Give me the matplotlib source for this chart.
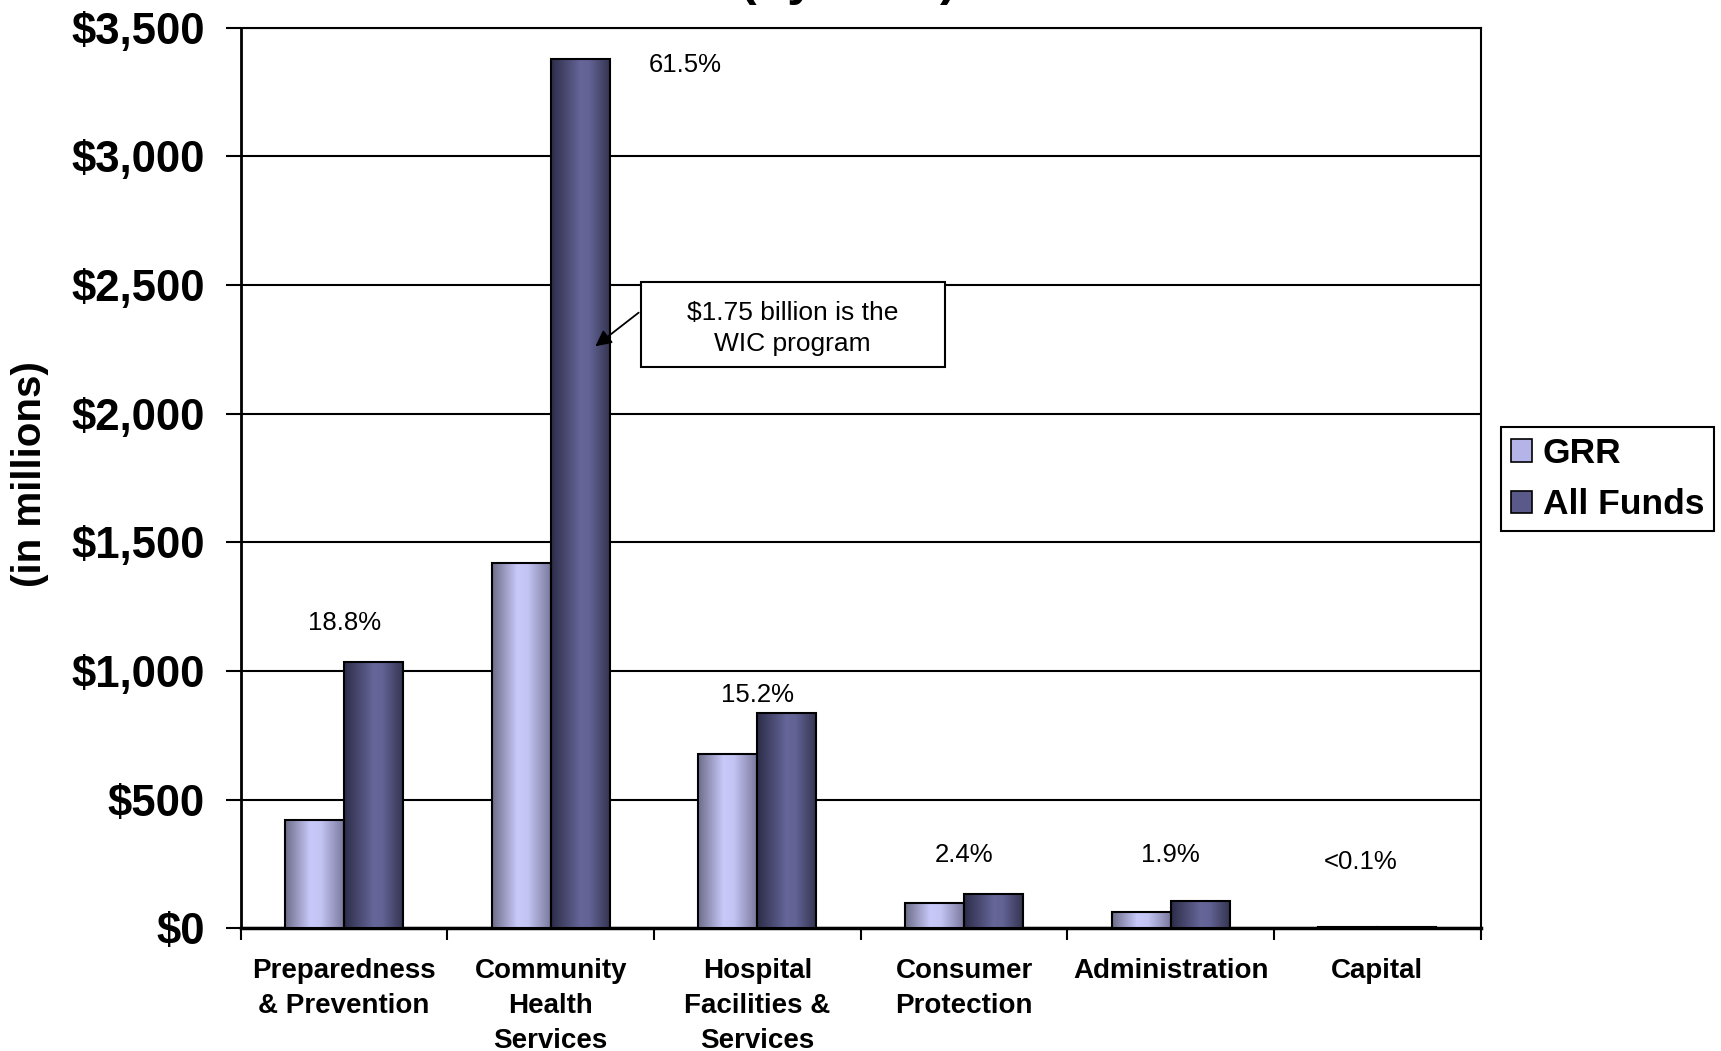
import matplotlib.pyplot as plt
import numpy as np
from matplotlib.colors import LinearSegmentedColormap
from matplotlib.patches import Patch, Rectangle

plt.rcParams['font.family'] = ['Liberation Sans', 'DejaVu Sans']

# расходы по целям, млн $
categories = ["Preparedness\n& Prevention", "Community\nHealth\nServices",
              "Hospital\nFacilities &\nServices", "Consumer\nProtection",
              "Administration", "Capital"]
grr = [420, 1420, 678, 100, 63, 4]
all_funds = [1034, 3378, 836, 132, 105, 5]
shares = ["18.8%", "61.5%", "15.2%", "2.4%", "1.9%", "<0.1%"]
y_ticks = [0, 500, 1000, 1500, 2000, 2500, 3000, 3500]

# где стоят подписи долей
share_pos = [(0, 1188), (1.65, 3356), (2, 908), (3, 285), (4, 285), (4.92, 259)]

# градиенты для столбцов
cmap_grr = LinearSegmentedColormap.from_list(
    "grr", [(0, "#6c6c88"), (0.42, "#c8c8fa"), (0.6, "#c4c4f4"), (1, "#76769a")])
cmap_all = LinearSegmentedColormap.from_list(
    "all", [(0, "#2c2c48"), (0.5, "#66669a"), (0.65, "#626294"), (1, "#32324e")])

fig = plt.figure(figsize=(17.21, 10.51), dpi=100)
ax = fig.add_axes([0.1399, 0.1166, 0.7205, 0.8572])

x = np.arange(len(categories))
w = 1 / 3.5
bars1 = ax.bar(x - w / 2, grr, w, facecolor='none', edgecolor='black', linewidth=1.5, zorder=4)
bars2 = ax.bar(x + w / 2, all_funds, w, facecolor='none', edgecolor='black', linewidth=1.5, zorder=4)

grad = np.linspace(0, 1, 256)[None, :]
for bars, cmap in [(bars1, cmap_grr), (bars2, cmap_all)]:
    for b in bars:
        x0, y0 = b.get_x(), b.get_y()
        im = ax.imshow(grad, cmap=cmap, aspect='auto', zorder=3.5,
                       extent=(x0, x0 + b.get_width(), y0, y0 + b.get_height()))
        im.set_clip_path(b)

ax.set_xlim(-0.5, 5.5)
ax.set_ylim(0, 3500)

# сетка и оси
ax.yaxis.grid(True, color='black', linewidth=1.5)
ax.set_axisbelow(True)
ax.spines['left'].set_linewidth(2)
ax.spines['bottom'].set_linewidth(2.5)
ax.spines['right'].set_linewidth(1.5)
ax.spines['top'].set_linewidth(1.5)

ax.set_yticks(y_ticks)
ax.set_yticklabels([f"${v:,}" for v in y_ticks], fontsize=31.5, fontweight='bold')
ax.tick_params(axis='y', length=10.8, width=1.5, pad=15)

ax.set_xticks(x)
ax.set_xticklabels(categories, fontsize=20, fontweight='bold', linespacing=1.45)
ax.tick_params(axis='x', which='major', length=0, pad=21)
ax.set_xticks(np.arange(-0.5, 6, 1), minor=True)
ax.tick_params(axis='x', which='minor', length=8.6, width=1.5, direction='out')

# доли от общей суммы
for s, (sx, sy) in zip(shares, share_pos):
    ax.text(sx, sy, s, ha='center', va='center', fontsize=18.5, zorder=5)

# выноска про WIC
ax.add_patch(Rectangle((1.436, 2182), 2.907 - 1.436, 2510 - 2182,
                       facecolor='white', edgecolor='black', linewidth=1.5, zorder=5))
ax.text(2.17, 2330, "$1.75 billion is the\nWIC program", ha='center', va='center',
        fontsize=19, linespacing=1.35, zorder=6)
ax.annotate("", xy=(1.205, 2255), xytext=(1.436, 2399),
            arrowprops=dict(arrowstyle='-|>', color='black', lw=1.3, mutation_scale=24),
            zorder=6)

# подпись оси Y
fig.text(0.0172, 0.549, "(in millions)", rotation=90, ha='center', va='center',
         fontsize=29, fontweight='bold')

# заголовок, уходит за верхний край
fig.text(0.4927, 1 + 5 / 1051, "(by Goal)", ha='center', va='baseline',
         fontsize=36, fontweight='bold')

handles = [Patch(facecolor="#b4b4e8", edgecolor='black', linewidth=1.2),
           Patch(facecolor="#5a5a8a", edgecolor='black', linewidth=1.2)]
leg = ax.legend(handles, ["GRR", "All Funds"], loc='upper left',
                bbox_to_anchor=(0.8722, 0.5937), bbox_transform=fig.transFigure,
                borderaxespad=0, fancybox=False, edgecolor='black', framealpha=1,
                prop={'weight': 'bold', 'size': 25.5}, handlelength=0.6, handleheight=0.6,
                handletextpad=0.3, labelspacing=0.52, borderpad=0.28)
leg.get_frame().set_linewidth(1.5)

fig.savefig("out.png", dpi=100)
